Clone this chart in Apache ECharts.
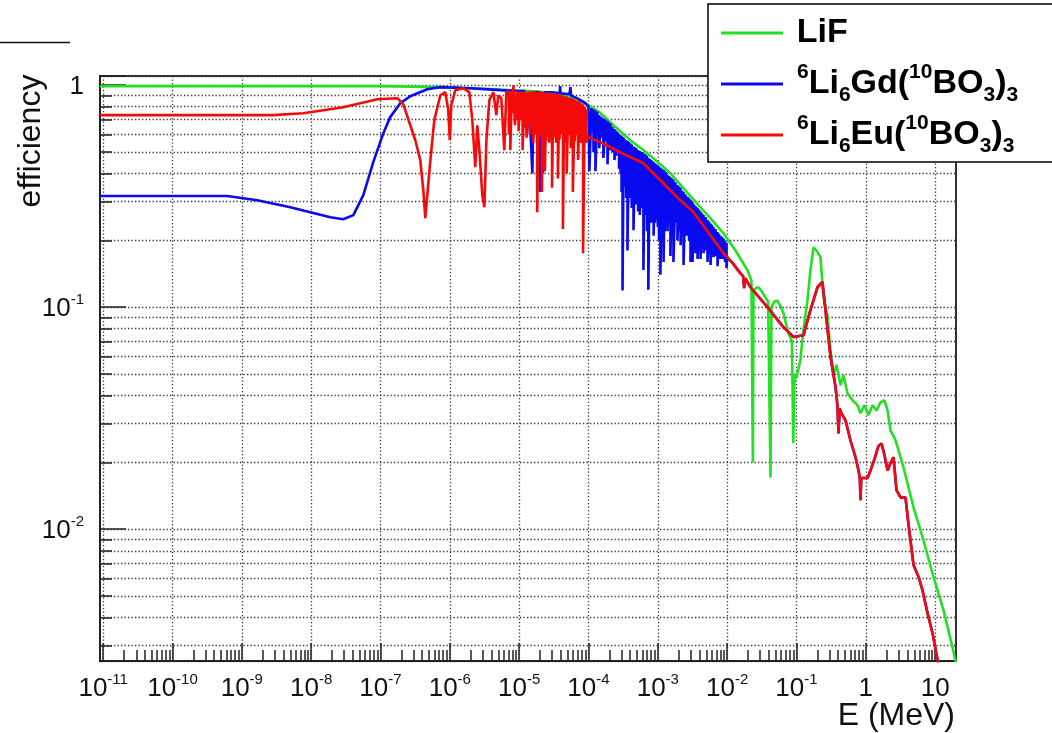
<!DOCTYPE html>
<html>
<head>
<meta charset="utf-8">
<script src="https://cdn.jsdelivr.net/npm/echarts@6/dist/echarts.min.js"></script>
<style>
  html, body { margin: 0; padding: 0; background: #fff; }
  #chart { width: 1052px; height: 733px; }
</style>
</head>
<body>
<div id="chart"></div>
<script>
// Neutron detection efficiency versus energy for three converter materials.

// Axis ranges (energy in MeV, efficiency as fraction)
const E_MIN = 9e-12, E_MAX = 20;
const EFF_MIN = 0.00255, EFF_MAX = 1.1;

// Decade exponents labelled along the energy axis
const X_TICK_EXPONENTS = [-11, -10, -9, -8, -7, -6, -5, -4, -3, -2, -1, 0, 1];
const X_MINOR_MULTIPLIERS = [2, 3, 4, 5, 6, 7, 8, 9];

const SERIES_NAMES = ['LiF', '\u2076Li\u2086Gd(\u00b9\u2070BO\u2083)\u2083', '\u2076Li\u2086Eu(\u00b9\u2070BO\u2083)\u2083'];
const LEGEND_MARKUP = [
  '{ps|\u00a0}{n|LiF}{d|\u00a0}',
  '{pf|6}{n|Li}{d|6}{n|Gd(}{p|10}{n|BO}{d|3}{n|)}{d|3}',
  '{pf|6}{n|Li}{d|6}{n|Eu(}{p|10}{n|BO}{d|3}{n|)}{d|3}'
];

// LiF: [E (MeV), efficiency]
const LIF_EFF = [
  [9e-12, 0.99], [1.0e-7, 0.99], [1.05e-7, 0.985], [7.3e-7, 0.98], [2.0e-6, 0.969],
  [5.4e-6, 0.955], [9.4e-6, 0.945], [2.0e-5, 0.935], [3.9e-5, 0.91], [6.5e-5, 0.87],
  [9.6e-5, 0.82], [1.5e-4, 0.748], [2.3e-4, 0.66], [4.0e-4, 0.565], [6.2e-4, 0.51],
  [9.2e-4, 0.46], [1.52e-3, 0.401], [2.5e-3, 0.336], [4.1e-3, 0.282], [6.1e-3, 0.246],
  [8.9e-3, 0.215], [1.32e-2, 0.18], [1.96e-2, 0.147], [2.24e-2, 0.132],
  [2.3e-2, 0.13], [2.35e-2, 0.02], [2.4e-2, 0.118], [2.6e-2, 0.122], [2.83e-2, 0.123],
  [3.2e-2, 0.117], [3.6e-2, 0.11], [3.9e-2, 0.106], [4.1e-2, 0.105], [4.22e-2, 0.0171],
  [4.35e-2, 0.1], [4.8e-2, 0.106], [5.3e-2, 0.107], [6.0e-2, 0.1], [6.5e-2, 0.094],
  [7.5e-2, 0.078], [8.6e-2, 0.07], [9.0e-2, 0.0244], [9.4e-2, 0.05], [1.0e-1, 0.048],
  [0.114, 0.058], [0.126, 0.079], [0.144, 0.107], [0.159, 0.147], [0.176, 0.186],
  [0.195, 0.18], [0.222, 0.168], [0.245, 0.111], [0.28, 0.092], [0.31, 0.064],
  [0.342, 0.0494], [0.378, 0.055], [0.432, 0.0445], [0.476, 0.0494], [0.545, 0.041],
  [0.643, 0.0381], [0.759, 0.0362], [0.839, 0.0333], [0.958, 0.0362], [1.094, 0.0326],
  [1.25, 0.0362], [1.43, 0.0343], [1.63, 0.0373], [1.86, 0.0381], [2.06, 0.0343],
  [2.27, 0.0279], [2.68, 0.0252], [3.5, 0.019], [4.88, 0.01256], [6.81, 0.0089],
  [9.49, 0.00608], [13.2, 0.00432], [17.8, 0.00294], [20, 0.0025]
];

// Li6Gd(BO3)3 below the dense Gd resonance region: [E, efficiency]
const GD_LOW = [
  [9e-12, 0.317], [6.15e-10, 0.317], [6.3e-10, 0.313], [1.67e-9, 0.303], [5.0e-9, 0.282],
  [9.7e-9, 0.268], [1.89e-8, 0.254], [2.9e-8, 0.249], [4.06e-8, 0.26], [5.65e-8, 0.32],
  [7.87e-8, 0.45], [1.1e-7, 0.608], [1.38e-7, 0.718], [1.93e-7, 0.83], [2.69e-7, 0.892],
  [4.73e-7, 0.959], [7.3e-7, 0.98], [2.0e-6, 0.969], [5.4e-6, 0.95], [9.4e-6, 0.94],
  [1.2e-5, 0.94], [1.3e-5, 0.6], [1.38e-5, 0.93], [1.55e-5, 0.40], [1.62e-5, 0.93],
  [1.9e-5, 0.93], [2.0e-5, 0.33], [2.08e-5, 0.93], [2.2e-5, 0.40], [2.3e-5, 0.93],
  [3.0e-5, 0.93], [3.5e-5, 0.925], [3.85e-5, 0.92], [3.9e-5, 0.99], [3.95e-5, 0.92],
  [5.3e-5, 0.91], [5.5e-5, 0.98], [5.6e-5, 0.9], [7.0e-5, 0.87], [8.0e-5, 0.85], [9.0e-5, 0.83]
];

// Gd resonance region: [E, local maximum, local minimum]
const GD_BAND = [
  [1.0e-4, 0.80, 0.80], [1.03e-4, 0.80, 0.41], [1.1e-4, 0.79, 0.62], [1.18e-4, 0.78, 0.50],
  [1.26e-4, 0.77, 0.41], [1.34e-4, 0.76, 0.6], [1.43e-4, 0.735, 0.52], [1.53e-4, 0.72, 0.58],
  [1.64e-4, 0.71, 0.47], [1.76e-4, 0.70, 0.56], [1.88e-4, 0.69, 0.44], [1.98e-4, 0.68, 0.55],
  [2.08e-4, 0.67, 0.51], [2.22e-4, 0.65, 0.5], [2.37e-4, 0.635, 0.46], [2.5e-4, 0.625, 0.48],
  [2.62e-4, 0.615, 0.54], [2.76e-4, 0.605, 0.42], [2.9e-4, 0.595, 0.40], [3.0e-4, 0.59, 0.33],
  [3.1e-4, 0.585, 0.119], [3.22e-4, 0.58, 0.36], [3.35e-4, 0.57, 0.35], [3.5e-4, 0.565, 0.31],
  [3.65e-4, 0.56, 0.18], [3.82e-4, 0.555, 0.33], [4.0e-4, 0.548, 0.31], [4.2e-4, 0.54, 0.28],
  [4.46e-4, 0.53, 0.222], [4.7e-4, 0.525, 0.3], [4.9e-4, 0.52, 0.29], [5.2e-4, 0.51, 0.27],
  [5.5e-4, 0.505, 0.26], [5.85e-4, 0.5, 0.28], [6.2e-4, 0.494, 0.147], [6.5e-4, 0.49, 0.26],
  [6.75e-4, 0.485, 0.27], [7.0e-4, 0.48, 0.22], [7.3e-4, 0.47, 0.12], [7.65e-4, 0.465, 0.25],
  [8.0e-4, 0.46, 0.24], [8.35e-4, 0.455, 0.26], [8.7e-4, 0.45, 0.21], [9.1e-4, 0.445, 0.24],
  [9.5e-4, 0.44, 0.25], [1.0e-3, 0.435, 0.23], [1.04e-3, 0.43, 0.2], [1.09e-3, 0.425, 0.14],
  [1.15e-3, 0.42, 0.25], [1.21e-3, 0.415, 0.16], [1.26e-3, 0.41, 0.22], [1.3e-3, 0.405, 0.24],
  [1.38e-3, 0.395, 0.22], [1.45e-3, 0.39, 0.26], [1.52e-3, 0.385, 0.17], [1.6e-3, 0.38, 0.23],
  [1.68e-3, 0.375, 0.16], [1.8e-3, 0.365, 0.24], [1.92e-3, 0.355, 0.2], [2.02e-3, 0.35, 0.22],
  [2.13e-3, 0.345, 0.19], [2.25e-3, 0.335, 0.23], [2.35e-3, 0.33, 0.155], [2.5e-3, 0.323, 0.21],
  [2.68e-3, 0.315, 0.21], [2.82e-3, 0.31, 0.2], [2.96e-3, 0.305, 0.16], [3.06e-3, 0.3, 0.21],
  [3.17e-3, 0.297, 0.16], [3.35e-3, 0.29, 0.2], [3.5e-3, 0.285, 0.175], [3.62e-3, 0.282, 0.2],
  [3.74e-3, 0.28, 0.165], [3.95e-3, 0.275, 0.19], [4.13e-3, 0.27, 0.165], [4.35e-3, 0.265, 0.19],
  [4.57e-3, 0.26, 0.175], [4.9e-3, 0.255, 0.18], [5.21e-3, 0.248, 0.16], [5.5e-3, 0.243, 0.18],
  [5.76e-3, 0.238, 0.155], [6.05e-3, 0.235, 0.175], [6.37e-3, 0.23, 0.168], [6.8e-3, 0.225, 0.17],
  [7.27e-3, 0.218, 0.153], [7.65e-3, 0.214, 0.17], [8.03e-3, 0.21, 0.165], [8.45e-3, 0.207, 0.165],
  [8.88e-3, 0.204, 0.165], [9.3e-3, 0.2, 0.16], [9.8e-3, 0.195, 0.15]
];

// Li6Eu(BO3)3 below the dense Eu resonance region: [E, efficiency]
const EU_LOW = [
  [9e-12, 0.733], [2.84e-9, 0.733], [7.7e-9, 0.748], [2.9e-8, 0.796], [9.0e-8, 0.865],
  [1.75e-7, 0.874], [2.13e-7, 0.821], [2.69e-7, 0.66], [3.18e-7, 0.565], [3.75e-7, 0.459],
  [4.15e-7, 0.336], [4.43e-7, 0.252], [4.73e-7, 0.32], [5.24e-7, 0.459], [5.97e-7, 0.696],
  [7.3e-7, 0.901], [8.6e-7, 0.93], [9.5e-7, 0.772], [1.0e-6, 0.565], [1.05e-6, 0.813],
  [1.2e-6, 0.95], [1.57e-6, 0.969], [1.91e-6, 0.93], [2.11e-6, 0.696], [2.33e-6, 0.427],
  [2.49e-6, 0.66], [2.67e-6, 0.51], [2.94e-6, 0.32], [3.15e-6, 0.282], [3.37e-6, 0.565],
  [3.72e-6, 0.856], [4.25e-6, 0.93], [4.69e-6, 0.733], [5.0e-6, 0.9], [5.53e-6, 0.874],
  [6.1e-6, 0.51], [6.53e-6, 0.93]
];

// Eu resonance region: [E, local maximum, local minimum]
const EU_BAND = [
  [7.1e-6, 0.94, 0.6], [7.45e-6, 0.93, 0.51], [7.85e-6, 0.94, 0.75], [8.3e-6, 1.0, 0.94],
  [8.7e-6, 0.93, 0.66], [9.2e-6, 0.94, 0.7], [9.8e-6, 0.93, 0.62], [1.05e-5, 0.94, 0.7],
  [1.12e-5, 0.93, 0.51], [1.2e-5, 0.94, 0.64], [1.28e-5, 0.93, 0.58], [1.36e-5, 0.94, 0.66],
  [1.44e-5, 0.93, 0.6], [1.52e-5, 0.94, 0.63], [1.6e-5, 0.93, 0.55], [1.7e-5, 0.94, 0.6],
  [1.82e-5, 0.93, 0.268], [1.92e-5, 0.93, 0.58], [2.03e-5, 0.94, 0.6], [2.13e-5, 0.93, 0.33],
  [2.23e-5, 0.93, 0.6], [2.35e-5, 0.92, 0.41], [2.47e-5, 0.93, 0.56], [2.6e-5, 0.92, 0.62],
  [2.72e-5, 0.93, 0.55], [2.85e-5, 0.92, 0.6], [2.98e-5, 0.92, 0.345], [3.12e-5, 0.92, 0.58],
  [3.27e-5, 0.91, 0.62], [3.42e-5, 0.92, 0.55], [3.62e-5, 0.91, 0.38], [3.82e-5, 0.91, 0.57],
  [4.02e-5, 0.9, 0.6], [4.28e-5, 0.9, 0.225], [4.48e-5, 0.89, 0.55], [4.85e-5, 0.89, 0.4],
  [5.15e-5, 0.88, 0.6], [5.55e-5, 0.88, 0.52], [5.95e-5, 0.87, 0.33], [6.35e-5, 0.86, 0.56],
  [6.75e-5, 0.85, 0.6], [7.08e-5, 0.85, 0.46], [7.45e-5, 0.84, 0.58], [7.85e-5, 0.83, 0.55],
  [8.35e-5, 0.82, 0.175], [8.85e-5, 0.8, 0.6], [9.25e-5, 0.78, 0.55]
];

// Li6Eu(BO3)3 smooth part above the resonances: [E, efficiency]
const EU_MID = [
  [9.6e-5, 0.6], [1.0e-4, 0.583], [1.49e-4, 0.554], [2.88e-4, 0.499], [6.19e-4, 0.445],
  [1.09e-3, 0.373], [2.12e-3, 0.303], [3.27e-3, 0.268], [5.74e-3, 0.211], [8.86e-3, 0.175]
];

// Fast-neutron part, common to both borate crystals: [E, efficiency]
const HIGH_E_TAIL = [
  [1.0e-2, 0.168], [1.2e-2, 0.158], [1.556e-2, 0.142], [1.7e-2, 0.138], [1.76e-2, 0.122],
  [1.82e-2, 0.135], [2.17e-2, 0.123], [3.82e-2, 0.1], [6.49e-2, 0.0813], [9.06e-2, 0.0734],
  [0.126, 0.0747], [0.159, 0.097], [0.201, 0.123], [0.237, 0.13], [0.262, 0.097],
  [0.31, 0.0597], [0.366, 0.0437], [0.39, 0.036], [0.404, 0.027], [0.42, 0.035],
  [0.446, 0.0332], [0.509, 0.031], [0.601, 0.0251], [0.71, 0.0211], [0.785, 0.0184],
  [0.82, 0.017], [0.839, 0.0135], [0.86, 0.017], [0.927, 0.017], [1.06, 0.017],
  [1.17, 0.0184], [1.34, 0.0208], [1.52, 0.0237], [1.69, 0.0243], [1.86, 0.0216],
  [2.06, 0.0184], [2.27, 0.0198], [2.51, 0.0211], [2.77, 0.015], [3.17, 0.0139],
  [3.74, 0.0139], [4.13, 0.0105], [4.88, 0.0069], [5.77, 0.0061], [6.58, 0.0053],
  [7.76, 0.0042], [9.18, 0.0034], [10.8, 0.0026], [12.0, 0.0021]
];

const COLORS = ['#22e022', '#0a0af0', '#f50a0a'];

// ---- build series points on a log10(E) axis ----
const lg = Math.log10;
const pt = (E, v) => [lg(E), v];
const fromPairs = arr => arr.map(([E, v]) => pt(E, v));
const fromBand = arr => arr.flatMap(([E, hi, lo]) => [pt(E, hi), pt(E, lo)]);

const lifData = fromPairs(LIF_EFF);
const gdData = [...fromPairs(GD_LOW), ...fromBand(GD_BAND), ...fromPairs(HIGH_E_TAIL)];
const euData = [...fromPairs(EU_LOW), ...fromBand(EU_BAND), ...fromPairs(EU_MID), ...fromPairs(HIGH_E_TAIL)];

const xMin = lg(E_MIN), xMax = lg(E_MAX);
const minorPositions = [];
[-12].concat(X_TICK_EXPONENTS).forEach(n => {
  X_MINOR_MULTIPLIERS.forEach(k => {
    const p = lg(k) + n;
    if (p > xMin + 1e-6 && p < xMax - 1e-6) minorPositions.push(p);
  });
});

const FONT = 'Liberation Sans, Arial, Helvetica, sans-serif';
const tickRich = {
  b: { fontSize: 26, fontFamily: FONT, color: '#111', lineHeight: 30, verticalAlign: 'bottom' },
  s: { fontSize: 15, fontFamily: FONT, color: '#111', lineHeight: 10, verticalAlign: 'top' }
};
const powLabel = n => (n === 0 ? '{b|1}' : n === 1 ? '{b|10}' : '{b|10}{s|' + n + '}');

const frameColor = '#222';
const dotted = { color: '#333', width: 1.3, type: [1.3, 2.2] };

const bold = (size, extra) => Object.assign(
  { fontSize: size, fontWeight: 'bold', fontFamily: FONT, color: '#000' }, extra);

const chart = echarts.init(document.getElementById('chart'), null, { renderer: 'canvas' });

chart.setOption({
  animation: false,
  backgroundColor: '#fff',
  grid: {
    left: 100, top: 76, width: 856, height: 585,
    show: true, borderColor: '#333', borderWidth: 2, backgroundColor: 'transparent',
    outerBoundsMode: 'none', containLabel: false
  },
  xAxis: [
    {
      type: 'value', min: xMin, max: xMax, position: 'bottom',
      axisLine: { show: true, onZero: false, lineStyle: { color: frameColor, width: 2 } },
      axisTick: { show: true, inside: true, length: 18, customValues: X_TICK_EXPONENTS,
                  lineStyle: { color: frameColor, width: 1.5 } },
      axisLabel: { show: true, margin: 11, customValues: X_TICK_EXPONENTS,
                   formatter: v => powLabel(Math.round(v)), rich: tickRich },
      splitLine: { show: true, lineStyle: dotted }
    },
    {
      type: 'value', min: xMin, max: xMax, position: 'bottom',
      axisLine: { show: false, onZero: false },
      axisTick: { show: true, inside: true, length: 11, customValues: minorPositions,
                  lineStyle: { color: frameColor, width: 1.5 } },
      axisLabel: { show: false },
      splitLine: { show: false }
    }
  ],
  yAxis: {
    type: 'log', logBase: 10, min: EFF_MIN, max: EFF_MAX, position: 'left',
    axisLine: { show: true, onZero: false, lineStyle: { color: frameColor, width: 2 } },
    axisTick: { show: true, inside: true, length: 26, lineStyle: { color: frameColor, width: 1.5 } },
    minorTick: { show: true, splitNumber: 9, length: 12, lineStyle: { color: frameColor, width: 1.5 } },
    axisLabel: {
      margin: 16, showMinLabel: false, showMaxLabel: false, rich: tickRich,
      formatter: v => {
        const e = lg(v), n = Math.round(e);
        return Math.abs(e - n) < 1e-6 ? powLabel(n) : '';
      }
    },
    splitLine: { show: true, lineStyle: dotted },
    minorSplitLine: { show: true, lineStyle: dotted }
  },
  legend: {
    orient: 'vertical', left: 708, top: 4,
    padding: [7, 60, 5, 13], itemGap: 7,
    itemWidth: 62, itemHeight: 3, icon: 'rect',
    selectedMode: false,
    backgroundColor: '#fff', borderColor: '#000', borderWidth: 1.5,
    data: SERIES_NAMES,
    formatter: name => LEGEND_MARKUP[SERIES_NAMES.indexOf(name)],
    textStyle: {
      color: '#000', fontFamily: FONT,
      rich: {
        n: bold(34, { lineHeight: 44, verticalAlign: 'middle' }),
        p: bold(21, { lineHeight: 21, verticalAlign: 'top' }),
        pf: bold(21, { lineHeight: 21, verticalAlign: 'top', padding: [0, 0, 0, 9] }),
        ps: bold(21, { lineHeight: 21, verticalAlign: 'top', padding: [0, 0, 0, 3] }),
        d: bold(21, { lineHeight: 21, verticalAlign: 'bottom' })
      }
    }
  },
  graphic: [
    { type: 'line', shape: { x1: 0, y1: 42.5, x2: 70, y2: 42.5 }, style: { stroke: '#111', lineWidth: 1.5 }, silent: true },
    { type: 'text', x: 31, y: 141, rotation: Math.PI / 2, silent: true,
      style: { text: 'efficiency', fontSize: 32, fontFamily: FONT, fill: '#111', align: 'center', verticalAlign: 'middle' } },
    { type: 'text', x: 955, y: 716, silent: true,
      style: { text: 'E (MeV)', fontSize: 32, fontFamily: FONT, fill: '#111', align: 'right', verticalAlign: 'middle' } }
  ],
  series: [lifData, gdData, euData].map((data, i) => ({
    name: SERIES_NAMES[i],
    type: 'line',
    xAxisIndex: 0, yAxisIndex: 0,
    data: data,
    showSymbol: false, symbol: 'none',
    clip: true, silent: true,
    lineStyle: { color: COLORS[i], width: 2.6, join: 'bevel' },
    itemStyle: { color: COLORS[i] },
    emphasis: { disabled: true },
    z: 2 + i
  }))
});
</script>
</body>
</html>
